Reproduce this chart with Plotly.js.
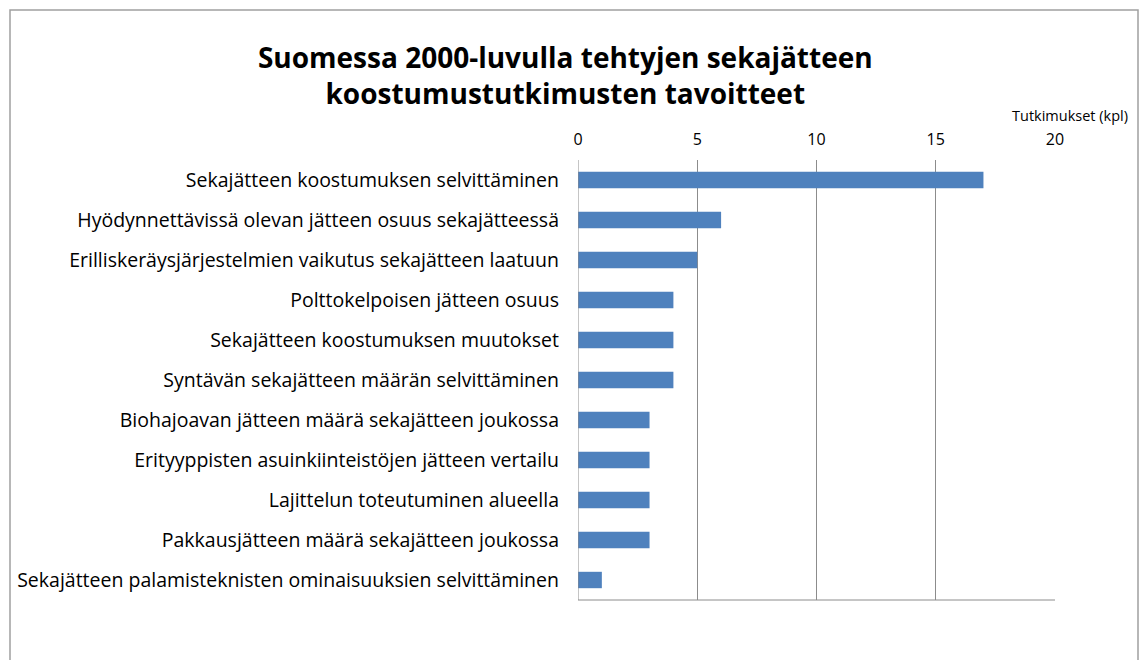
<!DOCTYPE html>
<html><head><meta charset="utf-8">
<script src="https://cdn.plot.ly/plotly-3.0.1.min.js"></script>
<style>html,body{margin:0;padding:0;background:#fff;}#chart{width:1142px;height:660px;}</style>
</head><body><div id="chart"></div>
<script>
const categories = [
  "Sekajätteen koostumuksen selvittäminen",
  "Hyödynnettävissä olevan jätteen osuus sekajätteessä",
  "Erilliskeräysjärjestelmien vaikutus sekajätteen laatuun",
  "Polttokelpoisen jätteen osuus",
  "Sekajätteen koostumuksen muutokset",
  "Syntävän sekajätteen määrän selvittäminen",
  "Biohajoavan jätteen määrä sekajätteen joukossa",
  "Erityyppisten asuinkiinteistöjen jätteen vertailu",
  "Lajittelun toteutuminen alueella",
  "Pakkausjätteen määrä sekajätteen joukossa",
  "Sekajätteen palamisteknisten ominaisuuksien selvittäminen"
];
const values = [17, 6, 5, 4, 4, 4, 3, 3, 3, 3, 1];
const tickValues = [0, 5, 10, 15, 20];
const titleText = "Suomessa 2000-luvulla tehtyjen sekajätteen<br>koostumustutkimusten tavoitteet";
const axisTitle = "Tutkimukset (kpl)";

const FONT = "'Open Sans', Lato, sans-serif";
const trace = {
  type: 'bar', orientation: 'h',
  x: values, y: categories,
  marker: {color: '#4F81BD'},
  hoverinfo: 'x+y'
};
const layout = {
  width: 1142, height: 660,
  margin: {l: 578, r: 87, t: 160, b: 60},
  paper_bgcolor: '#fff', plot_bgcolor: '#fff',
  showlegend: false,
  bargap: 0.59,
  font: {family: FONT, color: '#000'},
  title: {text: titleText, x: 0.495, xanchor: 'center', xref: 'container',
          y: 1 - 68/660, yanchor: 'top', yref: 'container',
          font: {family: FONT, size: 28, color: '#000', weight: 'bold', lineposition: 'none'}},
  xaxis: {side: 'top', range: [0, 20], tickvals: tickValues, ticktext: tickValues.map(String),
          showgrid: true, gridcolor: '#8c8c8c', gridwidth: 1, zeroline: false,
          showline: false, ticks: '', ticklabelstandoff: 11,
          tickfont: {family: FONT, size: 16, color: '#000'}, fixedrange: true},
  yaxis: {categoryorder: 'array', categoryarray: categories, autorange: 'reversed',
          showgrid: false, zeroline: false, showline: false, ticks: '',
          ticklabelstandoff: 18,
          tickfont: {family: FONT, size: 19.5, color: '#000'}, fixedrange: true},
  shapes: [
    {type: 'line', xref: 'x', yref: 'paper', x0: 0, x1: 0, y0: 0, y1: 1, line: {color: '#8c8c8c', width: 1}},
    {type: 'line', xref: 'paper', yref: 'paper', x0: 0, x1: 1, y0: 0, y1: 0, line: {color: '#8c8c8c', width: 1}},
    {type: 'rect', xref: 'paper', yref: 'paper', x0: (10-578)/477, x1: (1138-578)/477,
     y0: (600-700)/440, y1: (600-10)/440, line: {color: '#a0a0a0', width: 1.5}, fillcolor: 'rgba(0,0,0,0)', layer: 'below'}
  ],
  annotations: [
    {text: axisTitle, xref: 'paper', yref: 'paper', x: (1130-578)/477, y: (600-115)/440,
     xanchor: 'right', yanchor: 'middle', showarrow: false,
     font: {family: FONT, size: 14.5, color: '#000'}}
  ]
};
Plotly.newPlot('chart', [trace], layout, {displayModeBar: false, staticPlot: true});
</script></body></html>
